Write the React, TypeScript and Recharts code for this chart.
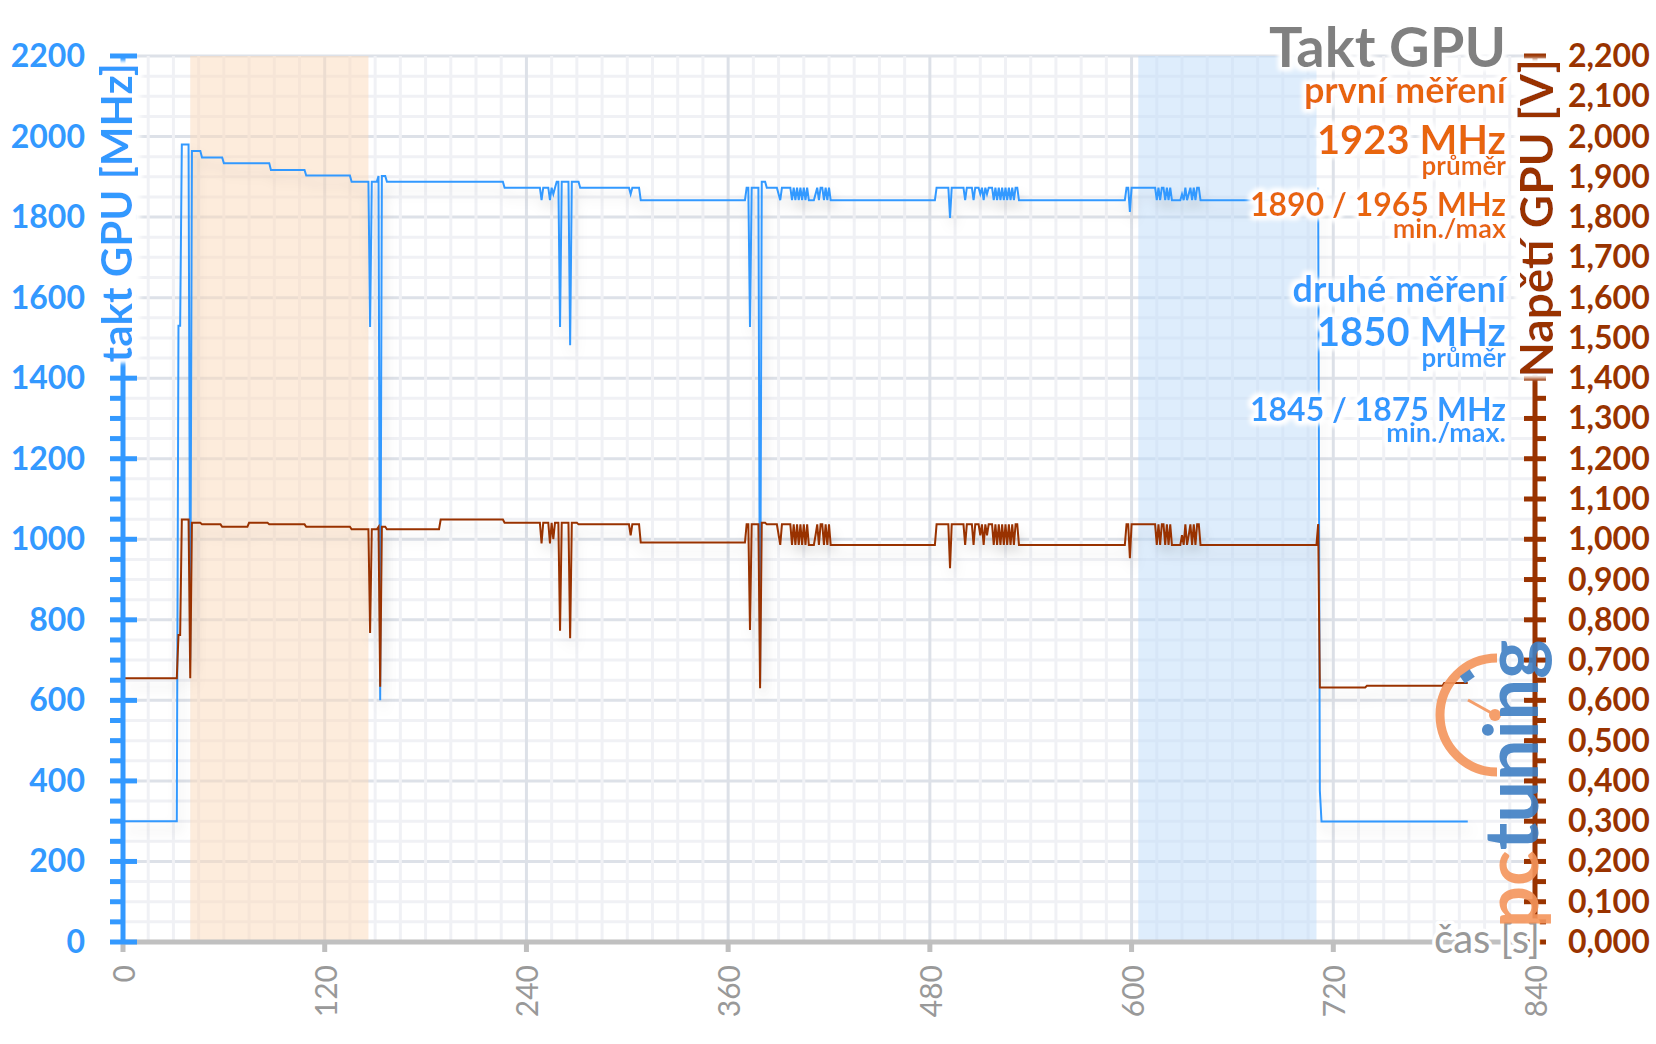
import { LineChart, Line, XAxis, YAxis, ReferenceLine, ReferenceArea } from 'recharts';

const FONT = 'Lato, "Open Sans", sans-serif';
const MODRA = '#3399ff';
const HNEDA = '#993300';
const ORANZOVA = '#e8650c';
const SEDA = '#999999';

// [čas s, takt MHz]
const taktGpu: [number, number][] = [
  [0, 300], [32, 300], [33, 1530], [34, 1530], [35, 1980], [39, 1980], [40, 700], [41, 1964],
  [46, 1964], [47, 1948], [59, 1948], [60, 1934], [87, 1934], [88, 1917], [108, 1917], [109, 1903],
  [135, 1903], [136, 1888], [146, 1888], [147, 1527], [148, 1888], [151, 1888], [152, 1902], [153, 600],
  [154, 1902], [156, 1902], [157, 1888], [226, 1888], [227, 1873], [248, 1873], [249, 1842], [250, 1873],
  [253, 1873], [254, 1842], [255, 1873], [256, 1857], [257, 1873], [258, 1888], [259, 1888], [260, 1527],
  [261, 1888], [265, 1888], [266, 1482], [267, 1888], [271, 1888], [272, 1873], [301, 1873], [302, 1857],
  [303, 1873], [307, 1873], [308, 1842], [370, 1842], [371, 1873], [372, 1873], [373, 1527], [374, 1873],
  [378, 1873], [379, 640], [380, 1888], [382, 1888], [383, 1873], [389, 1873], [391, 1842], [392, 1873],
  [397, 1873], [398, 1842], [399, 1873], [400, 1842], [401, 1873], [402, 1842], [403, 1873], [404, 1842],
  [405, 1873], [406, 1842], [407, 1873], [408, 1842], [411, 1842], [412, 1857], [413, 1873], [414, 1842],
  [415, 1873], [416, 1873], [417, 1842], [418, 1873], [419, 1842], [420, 1873], [421, 1842], [483, 1842],
  [484, 1873], [491, 1873], [492, 1798], [493, 1873], [500, 1873], [501, 1842], [502, 1873], [505, 1873],
  [506, 1842], [507, 1873], [509, 1873], [510, 1857], [511, 1873], [512, 1842], [513, 1873], [514, 1857],
  [515, 1873], [517, 1873], [518, 1842], [519, 1873], [520, 1842], [521, 1873], [522, 1842], [523, 1873],
  [524, 1842], [525, 1873], [526, 1842], [527, 1873], [528, 1842], [529, 1873], [530, 1842], [531, 1873],
  [532, 1873], [533, 1842], [596, 1842], [597, 1873], [598, 1873], [599, 1813], [600, 1873], [614, 1873],
  [615, 1842], [616, 1873], [617, 1842], [618, 1873], [619, 1873], [620, 1842], [621, 1873], [622, 1842],
  [623, 1873], [624, 1842], [629, 1842], [630, 1857], [631, 1842], [632, 1873], [633, 1842], [634, 1857],
  [635, 1873], [636, 1842], [637, 1873], [638, 1842], [639, 1873], [640, 1873], [641, 1842], [710, 1842],
  [711, 1873], [712, 376], [713, 299], [800, 299],
];

// [čas s, napětí V]
const napetiGpu: [number, number][] = [
  [0, 0.655], [32, 0.655], [33, 0.762], [34, 0.762], [35, 1.049], [39, 1.049], [40, 0.655], [41, 1.041],
  [46, 1.041], [47, 1.037], [58, 1.037], [59, 1.031], [74, 1.031], [75, 1.041], [86, 1.041], [87, 1.037],
  [108, 1.037], [109, 1.031], [135, 1.031], [136, 1.025], [146, 1.025], [147, 0.767], [148, 1.025],
  [151, 1.025], [152, 1.031], [153, 0.634], [154, 1.031], [156, 1.031], [157, 1.025], [188, 1.025],
  [189, 1.049], [226, 1.049], [227, 1.041], [248, 1.041], [249, 0.99], [250, 1.041], [253, 1.041],
  [254, 0.99], [255, 1.041], [256, 1.0], [257, 1.041], [259, 1.041], [260, 0.773], [261, 1.041],
  [265, 1.041], [266, 0.754], [267, 1.041], [270, 1.041], [271, 1.037], [301, 1.037], [302, 1.01],
  [303, 1.037], [307, 1.037], [308, 0.992], [370, 0.992], [371, 1.037], [372, 1.037], [373, 0.775],
  [374, 1.037], [378, 1.037], [379, 0.63], [380, 1.041], [382, 1.041], [383, 1.037], [389, 1.037],
  [391, 0.986], [392, 1.037], [397, 1.037], [398, 0.986], [399, 1.037], [400, 0.986], [401, 1.037],
  [402, 0.986], [403, 1.037], [404, 0.986], [405, 1.037], [406, 0.986], [407, 1.037], [408, 0.986],
  [411, 0.986], [412, 1.01], [413, 1.037], [414, 0.986], [415, 1.037], [416, 1.037], [417, 0.986],
  [418, 1.037], [419, 0.986], [420, 1.037], [421, 0.986], [483, 0.986], [484, 1.037], [491, 1.037],
  [492, 0.928], [493, 1.037], [500, 1.037], [501, 0.986], [502, 1.037], [505, 1.037], [506, 0.986],
  [507, 1.037], [509, 1.037], [510, 1.01], [511, 1.037], [512, 0.986], [513, 1.037], [514, 1.01],
  [515, 1.037], [517, 1.037], [518, 0.986], [519, 1.037], [520, 0.986], [521, 1.037], [522, 0.986],
  [523, 1.037], [524, 0.986], [525, 1.037], [526, 0.986], [527, 1.037], [528, 0.986], [529, 1.037],
  [530, 0.986], [531, 1.037], [532, 1.037], [533, 0.986], [596, 0.986], [597, 1.037], [598, 1.037],
  [599, 0.953], [600, 1.037], [614, 1.037], [615, 0.986], [616, 1.037], [617, 0.986], [618, 1.037],
  [619, 1.037], [620, 0.986], [621, 1.037], [622, 0.986], [623, 1.037], [624, 0.986], [629, 0.986],
  [630, 1.01], [631, 0.986], [632, 1.037], [633, 0.986], [634, 1.01], [635, 1.037], [636, 0.986],
  [637, 1.037], [638, 0.986], [639, 1.037], [640, 1.037], [641, 0.986], [710, 0.986], [711, 1.038],
  [712, 0.632], [739, 0.632], [740, 0.636], [785, 0.636], [786, 0.643], [800, 0.643],
];

const casTicks = [0, 120, 240, 360, 480, 600, 720, 840];
const casLabels = ['0', '120', '240', '360', '480', '600', '720', '840'];
const taktLabels = ['0', '200', '400', '600', '800', '1000', '1200', '1400', '1600', '1800', '2000', '2200'];
const napetiLabels = [
  '0,000', '0,100', '0,200', '0,300', '0,400', '0,500', '0,600', '0,700', '0,800', '0,900', '1,000', '1,100',
  '1,200', '1,300', '1,400', '1,500', '1,600', '1,700', '1,800', '1,900', '2,000', '2,100', '2,200',
];

// zvýrazněné úseky (s)
const prvniMereni = [40, 146];
const druheMereni = [604, 710];

const prvniTexty = ['první měření', '1923 MHz', 'průměr', '1890 / 1965 MHz', 'min./max'];
const druheTexty = ['druhé měření', '1850 MHz', 'průměr', '1845 / 1875 MHz', 'min./max.'];

const taktTicks = Array.from({ length: 45 }, (_, i) => i * 50);
const napetiTicks = Array.from({ length: 45 }, (_, i) => Math.round(i * 50) / 1000);
const mrizkaX = Array.from({ length: 57 }, (_, i) => i * 15);

const taktData = taktGpu.map(([t, mhz]) => ({ t, mhz }));
const napetiData = napetiGpu.map(([t, v]) => ({ t, v }));

const TaktTick = (props: any) => {
  const { x, y, payload } = props;
  const v = payload.value as number;
  const major = v % 200 === 0;
  return (
    <g>
      <line x1={x - 13} x2={major ? x + 14 : x} y1={y} y2={y} stroke={MODRA} strokeWidth={5} />
      {major && (
        <text x={x - 38} y={y + 11} textAnchor="end" fill={MODRA} fontSize={32} fontWeight={700} fontFamily={FONT}>
          {taktLabels[v / 200]}
        </text>
      )}
    </g>
  );
};

const NapetiTick = (props: any) => {
  const { x, y, payload } = props;
  const idx = Math.round((payload.value as number) * 20);
  const major = idx % 2 === 0;
  return (
    <g>
      <line x1={major ? x - 11 : x} x2={x + 11} y1={y} y2={y} stroke={HNEDA} strokeWidth={5} />
      {major && (
        <text x={x + 33} y={y + 11} textAnchor="start" fill={HNEDA} fontSize={32} fontWeight={700} fontFamily={FONT}>
          {napetiLabels[idx / 2]}
        </text>
      )}
    </g>
  );
};

const CasTick = (props: any) => {
  const { x, y, payload } = props;
  const idx = casTicks.indexOf(payload.value);
  return (
    <g>
      <line x1={x} x2={x} y1={y} y2={y + 10} stroke="#bfbfbf" strokeWidth={5} />
      <text
        transform={`translate(${x + 12},${y + 23}) rotate(-90)`}
        textAnchor="end"
        fill={SEDA}
        fontSize={30}
        fontFamily={FONT}
      >
        {casLabels[idx]}
      </text>
    </g>
  );
};

const Popisky = () => (
  <svg width={1656} height={1044} style={{ position: 'absolute', left: 0, top: 0, pointerEvents: 'none' }}>
    <defs>
      <filter id="stin" filterUnits="userSpaceOnUse" x={0} y={0} width={1656} height={1044}>
        <feDropShadow dx={3} dy={9} stdDeviation={6} floodColor="#000" floodOpacity={0.13} />
      </filter>
      <filter id="halo" x="-20%" y="-40%" width="140%" height="180%">
        <feMorphology in="SourceAlpha" operator="dilate" radius={3} result="d" />
        <feGaussianBlur in="d" stdDeviation={2.5} result="b" />
        <feFlood floodColor="#fff" />
        <feComposite in2="b" operator="in" result="w" />
        <feMerge>
          <feMergeNode in="w" />
          <feMergeNode in="w" />
          <feMergeNode in="SourceGraphic" />
        </feMerge>
      </filter>
      <filter id="rozmaz">
        <feGaussianBlur stdDeviation={2} />
      </filter>
    </defs>
    {/* podklad pod popisky os */}
    <rect x={98} y={62} width={42} height={298} fill="#fff" filter="url(#rozmaz)" />
    <rect x={1514} y={61} width={46} height={312} fill="#fff" filter="url(#rozmaz)" />
    <g fontFamily={FONT} fontWeight={700} textAnchor="end" filter="url(#halo)">
      <text x={1506} y={67} fontSize={56} fill="#808080">Takt GPU</text>
      <g fill={ORANZOVA}>
        <text x={1506} y={103} fontSize={36}>{prvniTexty[0]}</text>
        <text x={1506} y={154} fontSize={40}>{prvniTexty[1]}</text>
        <text x={1506} y={175} fontSize={26}>{prvniTexty[2]}</text>
        <text x={1506} y={216} fontSize={32}>{prvniTexty[3]}</text>
        <text x={1506} y={238} fontSize={27}>{prvniTexty[4]}</text>
      </g>
      <g fill={MODRA}>
        <text x={1506} y={302} fontSize={36}>{druheTexty[0]}</text>
        <text x={1506} y={346} fontSize={40}>{druheTexty[1]}</text>
        <text x={1506} y={367} fontSize={26}>{druheTexty[2]}</text>
        <text x={1506} y={421} fontSize={32}>{druheTexty[3]}</text>
        <text x={1506} y={442} fontSize={27}>{druheTexty[4]}</text>
      </g>
      <text transform="translate(132,63) rotate(-90)" fontSize={42} fill={MODRA}>
        takt GPU [MHz]
      </text>
      <text transform="translate(1553,59) rotate(-90)" fontSize={46} fill={HNEDA}>
        Napětí GPU [V]
      </text>
    </g>
    <text
      x={1540}
      y={953}
      textAnchor="end"
      fontFamily={FONT}
      fontSize={40}
      fill={SEDA}
      stroke="#fff"
      strokeWidth={7}
      strokeLinejoin="round"
      paintOrder="stroke"
    >
      čas [s]
    </text>
    {/* logo */}
    <g opacity={0.9}>
      <path d="M 1497 658 A 57 57 0 1 0 1497 772" fill="none" stroke="#f4955c" strokeWidth={9} />
      <rect x={1461} y={672} width={12} height={9} fill="#3f7fc4" transform="rotate(-35 1467 676)" />
      <line x1={1468} y1={700} x2={1495} y2={715} stroke="#f4955c" strokeWidth={3} />
      <circle cx={1495} cy={715} r={6} fill="#f4955c" />
      <text transform="translate(1538,928) rotate(-90)" fontFamily={FONT} fontWeight={700} fontSize={74}>
        <tspan fill="#f4955c">pc</tspan>
        <tspan fill="#3f7fc4">tuning</tspan>
      </text>
    </g>
  </svg>
);

export default function App() {
  return (
    <div style={{ position: 'absolute', left: 0, top: 0, width: 1656, height: 1044, background: '#fff' }}>
      <LineChart width={1656} height={1044} margin={{ top: 56, right: 0, bottom: 0, left: 0 }}>
        {taktTicks.map((v) => (
          <ReferenceLine
            key={`h${v}`}
            yAxisId="mhz"
            y={v}
            stroke={v % 200 === 0 ? '#dde1e8' : '#f0f1f5'}
            strokeWidth={3}
            zIndex={-100}
          />
        ))}
        {mrizkaX.map((t) => (
          <ReferenceLine
            key={`v${t}`}
            yAxisId="mhz"
            x={t}
            stroke={t % 120 === 0 ? '#dde1e8' : '#f0f1f5'}
            strokeWidth={3}
            zIndex={-100}
          />
        ))}
        <ReferenceArea
          yAxisId="mhz"
          x1={prvniMereni[0]}
          x2={prvniMereni[1]}
          fill="#fbd9b9"
          fillOpacity={0.5}
          stroke="none"
          zIndex={-50}
        />
        <ReferenceArea
          yAxisId="mhz"
          x1={druheMereni[0]}
          x2={druheMereni[1]}
          fill="#bddbf9"
          fillOpacity={0.5}
          stroke="none"
          zIndex={-50}
        />
        <XAxis
          dataKey="t"
          type="number"
          domain={[0, 840]}
          ticks={casTicks}
          interval={0}
          height={102}
          tickSize={0}
          tickMargin={0}
          axisLine={{ stroke: '#c0c0c0', strokeWidth: 5 }}
          tick={(p: any) => <CasTick {...p} />}
        />
        <YAxis
          yAxisId="mhz"
          orientation="left"
          width={123}
          domain={[0, 2200]}
          ticks={taktTicks}
          interval={0}
          tickSize={0}
          tickMargin={0}
          axisLine={{ stroke: MODRA, strokeWidth: 5 }}
          tick={(p: any) => <TaktTick {...p} />}
        />
        <YAxis
          yAxisId="v"
          orientation="right"
          width={121}
          domain={[0, 2.2]}
          ticks={napetiTicks}
          interval={0}
          tickSize={0}
          tickMargin={0}
          axisLine={{ stroke: HNEDA, strokeWidth: 5 }}
          tick={(p: any) => <NapetiTick {...p} />}
        />
        <Line
          data={taktData}
          dataKey="mhz"
          yAxisId="mhz"
          type="linear"
          stroke={MODRA}
          strokeWidth={2}
          dot={false}
          isAnimationActive={false}
          filter="url(#stin)"
        />
        <Line
          data={napetiData}
          dataKey="v"
          yAxisId="v"
          type="linear"
          stroke={HNEDA}
          strokeWidth={2}
          dot={false}
          isAnimationActive={false}
          filter="url(#stin)"
        />
      </LineChart>
      <Popisky />
    </div>
  );
}
